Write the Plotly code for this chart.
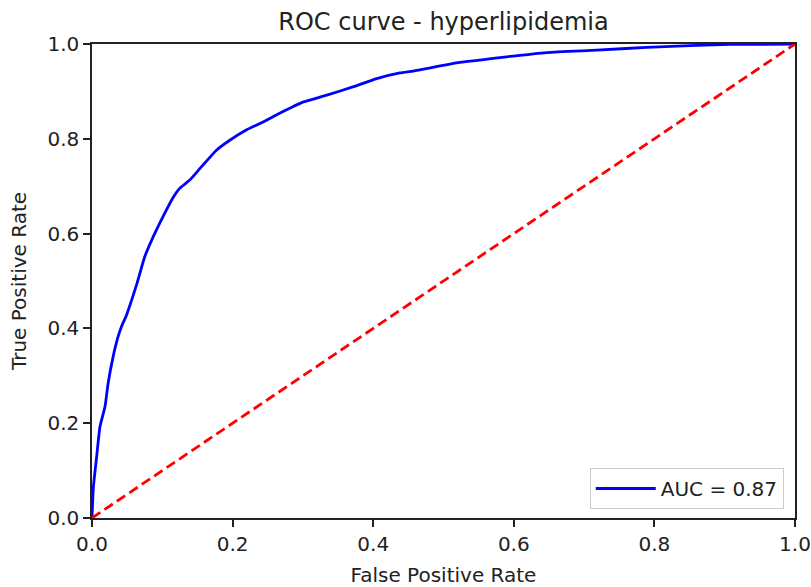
import plotly.graph_objects as go

# ROC curve
fpr = [0.0, 0.002, 0.0066, 0.0114, 0.0185, 0.023, 0.030, 0.037, 0.042, 0.049,
       0.064, 0.075, 0.087, 0.101, 0.116, 0.125, 0.139, 0.154, 0.177, 0.196,
       0.220, 0.244, 0.267, 0.301, 0.334, 0.372, 0.405, 0.438, 0.457, 0.523,
       0.590, 0.647, 0.718, 0.789, 0.860, 0.908, 1.0]
tpr = [0.0, 0.066, 0.129, 0.193, 0.235, 0.285, 0.340, 0.382, 0.404, 0.428,
       0.495, 0.551, 0.593, 0.636, 0.678, 0.696, 0.713, 0.738, 0.776, 0.797,
       0.819, 0.836, 0.854, 0.878, 0.892, 0.910, 0.927, 0.939, 0.943, 0.961,
       0.973, 0.982, 0.987, 0.993, 0.997, 0.999, 1.0]
chance = [0.0, 1.0]
auc = 0.87
ticks = [0.0, 0.2, 0.4, 0.6, 0.8, 1.0]

FONT = "DejaVu Sans"

fig = go.Figure()
fig.add_trace(go.Scatter(x=fpr, y=tpr, mode="lines", name=f"AUC = {auc:.2f}",
                         line=dict(color="#0000ff", width=2.8, shape="spline", smoothing=0.5)))
fig.add_trace(go.Scatter(x=chance, y=chance, mode="lines", showlegend=False,
                         line=dict(color="#ff0000", width=2.8, dash="10px,5px")))

axis_style = dict(range=[0, 1], tickvals=ticks, tickformat=".1f", showgrid=False, zeroline=False,
                  showline=True, linecolor="#222222", linewidth=1.5, mirror=True,
                  ticks="outside", ticklen=7, tickwidth=1.5, tickcolor="#222222",
                  automargin=False,
                  tickfont=dict(family=FONT, size=20, color="#222222"))

fig.update_layout(
    width=811, height=587,
    margin=dict(l=92, r=16, t=44, b=69),
    paper_bgcolor="white", plot_bgcolor="white",
    font=dict(family=FONT, size=20, color="#222222"),
    title=dict(text="ROC curve - hyperlipidemia", x=(92 + 795) / 2 / 811, xanchor="center",
               y=1 - 22 / 587, yanchor="middle", font=dict(family=FONT, size=24, color="#222222")),
    xaxis=dict(axis_style, title=dict(text="False Positive Rate", standoff=13,
                                      font=dict(family=FONT, size=20))),
    yaxis=dict(axis_style, title=dict(text="True Positive Rate", standoff=15,
                                      font=dict(family=FONT, size=20))),
    legend=dict(x=0.984, y=0.019, xanchor="right", yanchor="bottom", itemwidth=60,
                bgcolor="white", bordercolor="#cccccc", borderwidth=1,
                font=dict(family=FONT, size=20, color="#222222")),
)

# drop the default 8px body margin so the 811x587 figure fills the window exactly
fig.write_html("out.html", config={"displayModeBar": False},
               post_script="document.body.style.margin = '0';")
